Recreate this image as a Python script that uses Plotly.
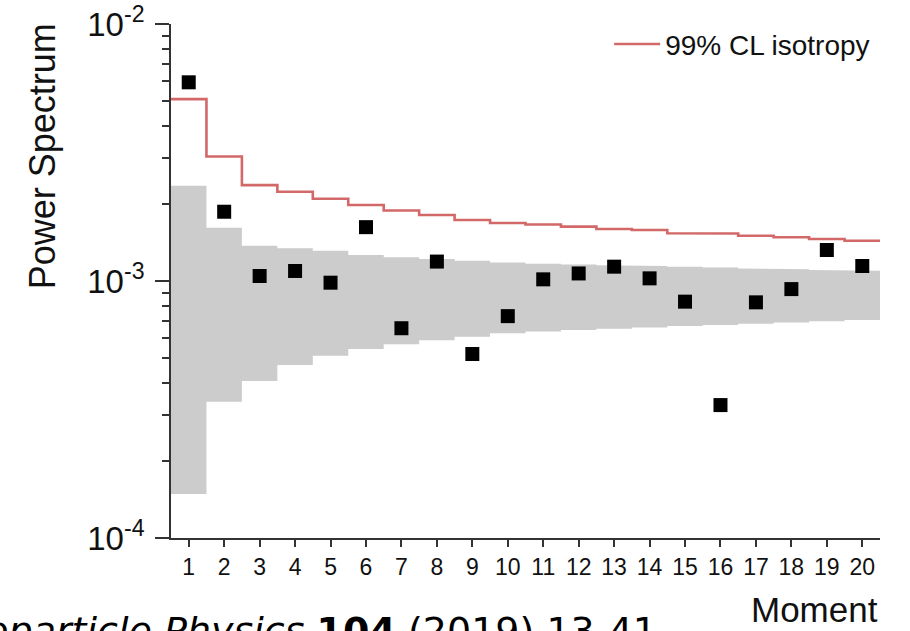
import plotly.graph_objects as go

# ---- data ----
moments = list(range(1, 21))
power = [5.93e-3, 1.86e-3, 1.046e-3, 1.094e-3, 0.985e-3, 1.62e-3, 0.655e-3, 1.19e-3,
         0.52e-3, 0.73e-3, 1.015e-3, 1.07e-3, 1.137e-3, 1.024e-3, 0.831e-3, 0.329e-3,
         0.826e-3, 0.93e-3, 1.32e-3, 1.144e-3]
cl99 = [5.1e-3, 3.05e-3, 2.36e-3, 2.226e-3, 2.09e-3, 1.977e-3, 1.88e-3, 1.807e-3,
        1.727e-3, 1.682e-3, 1.659e-3, 1.627e-3, 1.594e-3, 1.58e-3, 1.533e-3, 1.53e-3,
        1.5e-3, 1.479e-3, 1.457e-3, 1.435e-3]
band_hi = [2.35e-3, 1.612e-3, 1.372e-3, 1.34e-3, 1.312e-3, 1.262e-3, 1.236e-3, 1.218e-3,
           1.2e-3, 1.18e-3, 1.168e-3, 1.16e-3, 1.151e-3, 1.144e-3, 1.136e-3, 1.128e-3,
           1.118e-3, 1.111e-3, 1.104e-3, 1.097e-3]
band_lo = [1.483e-4, 3.39e-4, 4.08e-4, 4.71e-4, 5.12e-4, 5.44e-4, 5.67e-4, 5.88e-4,
           6.07e-4, 6.26e-4, 6.36e-4, 6.45e-4, 6.52e-4, 6.59e-4, 6.68e-4, 6.74e-4,
           6.82e-4, 6.90e-4, 6.97e-4, 7.05e-4]
y_tickvals = [1e-4, 1e-3, 1e-2]
y_ticktext = ["10<sup>-4</sup>", "10<sup>-3</sup>", "10<sup>-2</sup>"]
legend_label = "99% CL isotropy"
y_title = "Power Spectrum"
x_title = "Moment"
citation = "<i>Astroparticle Physics</i> <b>104</b> (2019) 13-41"


def steps(xvals, vals):
    xs, ys = [], []
    for m, v in zip(xvals, vals):
        xs += [m - 0.5, m + 0.5]
        ys += [v, v]
    return xs, ys


bx, blo = steps(moments, band_lo)
_, bhi = steps(moments, band_hi)
cx, cy = steps(moments, cl99)

fig = go.Figure()
fig.add_trace(go.Scatter(x=bx, y=blo, mode="lines", line=dict(width=0, color="#cccccc"),
                         showlegend=False, hoverinfo="skip"))
fig.add_trace(go.Scatter(x=bx, y=bhi, mode="lines", line=dict(width=0, color="#cccccc"),
                         fill="tonexty", fillcolor="#cccccc", showlegend=False, hoverinfo="skip"))
fig.add_trace(go.Scatter(x=cx, y=cy, mode="lines", name=legend_label,
                         line=dict(color="#d26868", width=2.6), showlegend=True))
fig.add_trace(go.Scatter(x=moments, y=power, mode="markers", showlegend=False,
                         marker=dict(symbol="square", size=14, color="black")))

axis_col = "#333333"
fig.update_xaxes(range=[0.5, 20.5], tickmode="array", tickvals=moments,
                 ticktext=[str(m) for m in moments], ticks="outside", ticklen=7,
                 tickwidth=1.5, tickcolor=axis_col, showline=True, linecolor=axis_col,
                 linewidth=1.8, showgrid=False, zeroline=False, automargin=False,
                 tickfont=dict(size=23, color="#111111"))
fig.update_yaxes(type="log", range=[-4, -2], tickmode="array", tickvals=y_tickvals,
                 ticktext=y_ticktext, ticks="outside", ticklen=14, tickwidth=1.5,
                 tickcolor=axis_col, showline=True, linecolor=axis_col, linewidth=1.8,
                 showgrid=False, zeroline=False, ticklabelstandoff=4, automargin=False,
                 tickfont=dict(size=33, color="#111111"),
                 minor=dict(tickmode="linear", dtick="D1", ticks="outside", ticklen=7,
                            tickwidth=1.5, tickcolor=axis_col, showgrid=False))

fig.update_layout(
    width=910, height=631, autosize=False,
    margin=dict(l=171, r=30, t=24, b=93, pad=0, autoexpand=False),
    paper_bgcolor="white", plot_bgcolor="white",
    font=dict(family="Liberation Sans, Arial, sans-serif", color="#111111"),
    showlegend=True,
    legend=dict(x=0.618, y=1.009, xanchor="left", yanchor="top", bgcolor="rgba(0,0,0,0)",
                font=dict(size=28, color="#111111"), itemwidth=46, borderwidth=0),
    annotations=[
        dict(text=y_title, xref="paper", yref="paper", x=-0.181, y=0.742,
             xanchor="center", yanchor="middle", textangle=-90, showarrow=False,
             font=dict(size=36, color="#111111")),
        dict(text=x_title, xref="paper", yref="paper", x=1.0, y=-0.140,
             xanchor="right", yanchor="middle", showarrow=False,
             font=dict(size=35, color="#111111")),
        dict(text=citation, xref="paper", yref="paper", x=0.688, y=-0.180,
             xanchor="right", yanchor="middle", showarrow=False,
             font=dict(size=38, color="black", family="DejaVu Sans")),
    ],
)

fig.write_html("out.html")
